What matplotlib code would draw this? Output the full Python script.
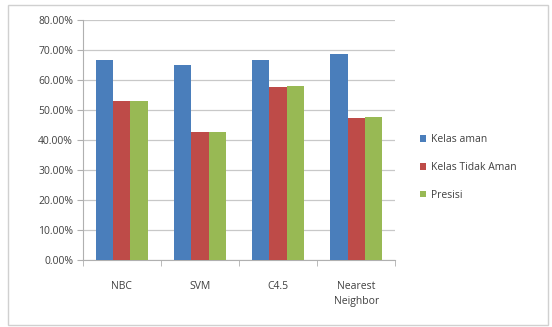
import numpy as np
import matplotlib.pyplot as plt
from matplotlib.patches import Rectangle
from matplotlib.ticker import FuncFormatter

categories = ['NBC', 'SVM', 'C4.5', 'Nearest\nNeighbor']
kelas_aman = [66.5, 65.0, 66.5, 68.5]
kelas_tidak_aman = [53.0, 42.5, 57.5, 47.3]
presisi = [53.0, 42.5, 58.0, 47.7]

series = [('Kelas aman', kelas_aman, '#4a7ebb'),
          ('Kelas Tidak Aman', kelas_tidak_aman, '#be4b48'),
          ('Presisi', presisi, '#98b954')]

plt.rcParams['font.family'] = ['Open Sans', 'DejaVu Sans']
txt = '#404040'

fig = plt.figure(figsize=(5.52, 3.27), dpi=100)
fig.patches.append(Rectangle((0.015, 0.006), 0.978, 0.978, transform=fig.transFigure,
                             fill=False, edgecolor='#d0d0d0', linewidth=1.0))
ax = fig.add_axes([0.150, 0.205, 0.566, 0.734])

x = np.arange(len(categories))
w = 0.22
for i, (name, vals, col) in enumerate(series):
    ax.bar(x + (i - 1) * w, vals, w, color=col, label=name, zorder=3)

ax.set_xlim(-0.5, len(categories) - 0.5)
ax.set_ylim(0, 80)
ax.set_yticks(np.arange(0, 81, 10))
ax.yaxis.set_major_formatter(FuncFormatter(lambda v, p: '%.2f%%' % v))
ax.grid(axis='y', color='#c8c8c8', linewidth=0.9, zorder=0)
ax.set_xticks(x)
ax.set_xticklabels(categories, linespacing=1.5)
ax.set_xticks(np.arange(-0.5, len(categories)), minor=True)
ax.tick_params(axis='x', which='major', length=0, pad=15, labelsize=7.5, colors=txt)
ax.tick_params(axis='x', which='minor', length=4, color='#b0b0b0')
ax.tick_params(axis='y', length=4, color='#b0b0b0', labelsize=7.5, labelcolor=txt, pad=3)
for s in ['top', 'right']:
    ax.spines[s].set_visible(False)
for s in ['left', 'bottom']:
    ax.spines[s].set_color('#b0b0b0')

ax.legend(loc='center left', bbox_to_anchor=(1.05, 0.385), frameon=False, fontsize=7.5,
          handlelength=0.6, handleheight=0.6, handletextpad=0.4, labelspacing=1.6,
          labelcolor=txt)

plt.savefig('out.png', dpi=100)
